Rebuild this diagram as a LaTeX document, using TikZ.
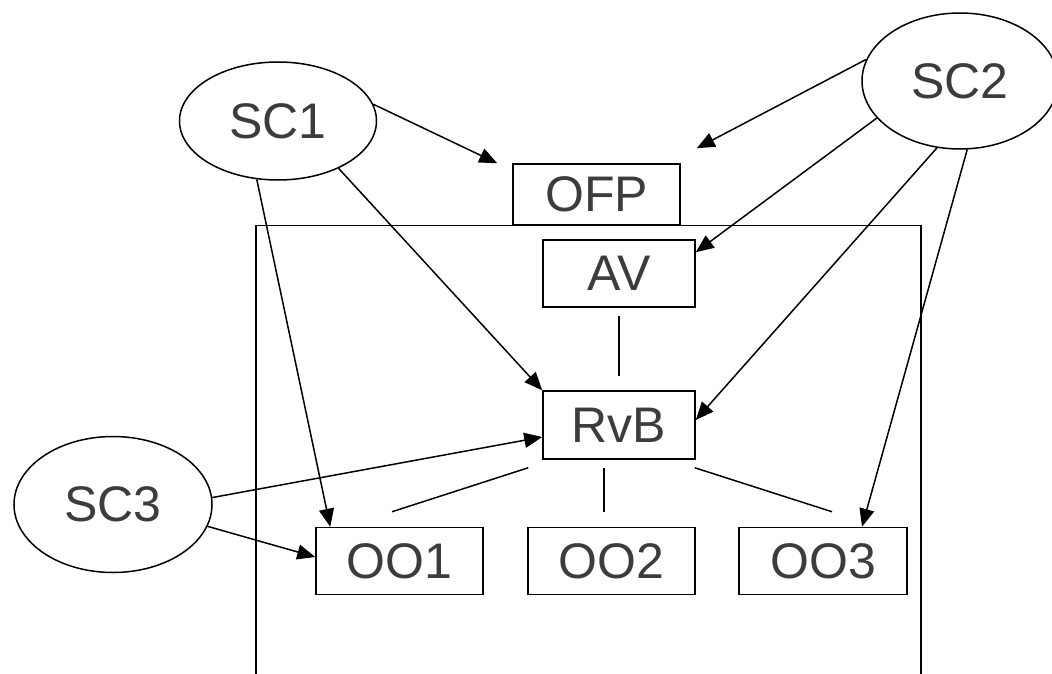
\documentclass[tikz,border=0pt]{standalone}
\usepackage{fontspec}
\setmainfont{Liberation Sans}
\usetikzlibrary{shapes.geometric,arrows.meta,calc}
\definecolor{txt}{HTML}{3C3C3C}
\begin{document}
\begin{tikzpicture}[x=1pt,y=-1pt,
  every node/.style={font=\fontsize{50}{60}\selectfont, text=txt},
  box/.style={draw=black, line width=1.5pt, rectangle, inner sep=0pt},
  oval/.style={draw=black, line width=1.5pt, ellipse, inner sep=0pt},
  conn/.style={draw=black, line width=1.5pt},
  arr/.style={conn, -{Triangle[length=18pt,width=15pt]}}]
\clip (0,0) rectangle (1052,674);
% frame
\draw[line width=1.5pt] (256,690) -- (256,225.5) -- (921,225.5) -- (921,690);
% nodes
\node[oval, minimum width=197pt, minimum height=118pt] (sc1) at (278,121) {SC1};
\node[oval, minimum width=196pt, minimum height=136pt] (sc2) at (960,81) {SC2};
\node[oval, minimum width=198pt, minimum height=136pt] (sc3) at (113,504.5) {SC3};
\node[box, minimum width=167pt, minimum height=61pt] (ofp) at (596.5,194.5) {OFP};
\node[box, minimum width=152pt, minimum height=67pt] (av) at (619,273.5) {AV};
\node[box, minimum width=152pt, minimum height=68pt] (rvb) at (619,425) {RvB};
\node[box, minimum width=167pt, minimum height=67pt] (oo1) at (399.5,561) {OO1};
\node[box, minimum width=167pt, minimum height=67pt] (oo2) at (611.5,561) {OO2};
\node[box, minimum width=168pt, minimum height=67pt] (oo3) at (823,561) {OO3};
% arrows
\draw[arr] (sc1.10) -- ($(ofp.north west)+(-15,0)$);
\draw[arr] (sc2.167) -- ($(ofp.north east)+(16,-15)$);
\draw[arr] (sc2.204) -- ($(av.north east)+(0,13)$);
\draw[arr] (sc2.251) -- ($(rvb.east)+(0,-5)$);
\draw[arr] (sc2.276) -- ($(oo3.north)+(39,0)$);
\draw[arr] (sc1.-38) -- (rvb.north west);
\draw[arr] (sc1.250) -- ($(oo1.north west)+(15,0)$);
\draw[arr] (sc3.4) -- ($(rvb.west)+(0,12)$);
\draw[arr] (sc3.-13) -- ($(oo1.west)+(0,-4)$);
% plain lines
\draw[conn] ($(av.south)+(0,8)$) -- ($(rvb.north)+(0,-14)$);
\draw[conn] ($(rvb.south west)+(-14,8)$) -- ($(oo1.north)+(-7.5,-15)$);
\draw[conn] ($(rvb.south)+(-15,8)$) -- ($(oo2.north)+(-7.5,-15)$);
\draw[conn] ($(rvb.south east)+(-1,8)$) -- ($(oo3.north)+(9,-15)$);
\end{tikzpicture}
\end{document}
